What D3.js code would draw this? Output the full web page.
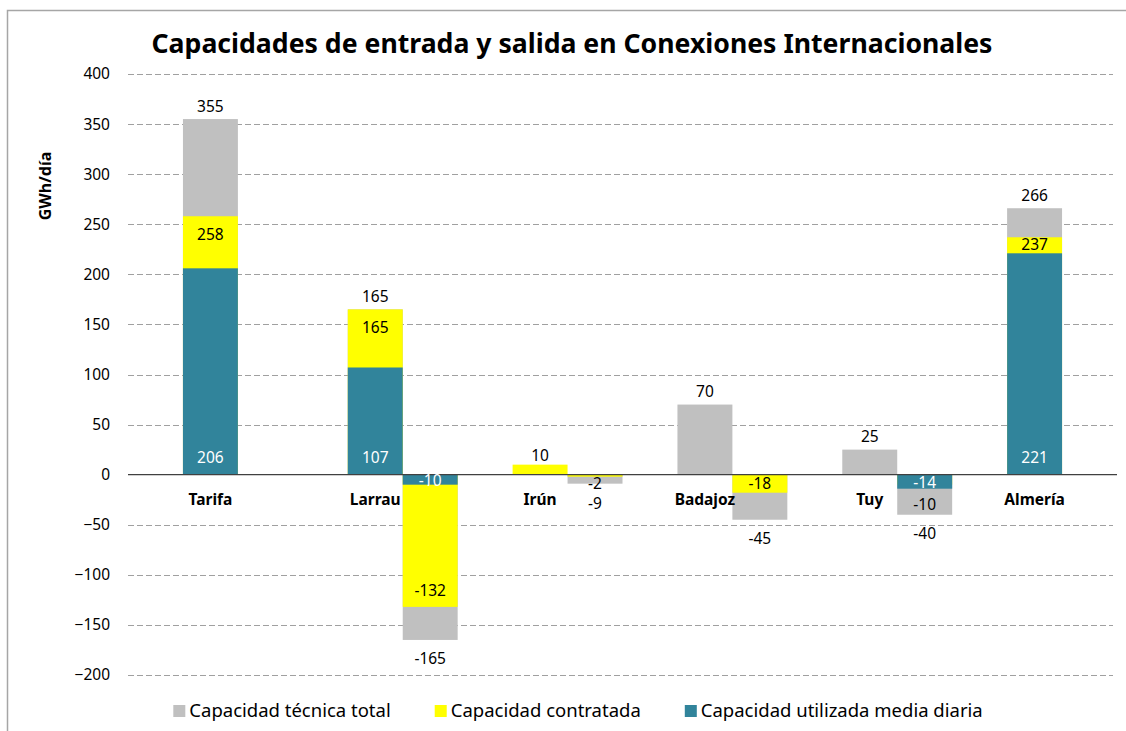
<!DOCTYPE html>
<html>
<head>
<meta charset="utf-8">
<script src="https://cdnjs.cloudflare.com/ajax/libs/d3/7.8.5/d3.min.js"></script>
<style>
  body { margin: 0; background: #fff; }
  svg { display: block; font-family: "Noto Sans", "Open Sans", sans-serif; }
  .grid line { stroke: #a0a0a0; stroke-dasharray: 6,3; }
</style>
</head>
<body>
<svg id="chart"></svg>
<script>
// DATA
/***********************/
var categories = ["Tarifa", "Larrau", "Irún", "Badajoz", "Tuy", "Almería"];

// entrada (positive bars)
var entradaTecnica    = [355, 165, null, 70, 25, 266];
var entradaContratada = [258, 165, 10, null, null, 237];
var entradaUtilizada  = [206, 107, null, null, null, 221];

// salida (negative bars)
var salidaTecnica    = [null, -165, -9, -45, -40, null];
var salidaContratada = [null, -132, -2, -18, -10, null];
var salidaUtilizada  = [null, -10, null, null, -14, null];

var yTicks = [-200, -150, -100, -50, 0, 50, 100, 150, 200, 250, 300, 350, 400];

var seriesNames = ["Capacidad técnica total", "Capacidad contratada", "Capacidad utilizada media diaria"];

// LAYOUT
/***********************/
var WIDTH = 1126,
    HEIGHT = 731;
var PLOT_LEFT = 128,
    PLOT_RIGHT = 1117;

var colors = ["#c0c0c0", "#ffff00", "#31849b"];

var svg = d3.select("#chart")
    .attr("width", WIDTH)
    .attr("height", HEIGHT);

// light frame of the chart area
svg.append("path")
    .attr("d", "M7.5,731 V10.5 H1126")
    .attr("fill", "none")
    .attr("stroke", "#a6a6a6")
    .attr("stroke-width", 1.5);

var x = d3.scaleBand()
    .domain(categories)
    .range([PLOT_LEFT, PLOT_RIGHT])
    .padding(0);

var y = d3.scaleLinear()
    .domain([-200, 400])
    .range([675, 74]);

var barW = x.bandwidth() / 3;

// gridlines
svg.append("g")
    .attr("class", "grid")
  .selectAll("line")
    .data(yTicks.filter(function(d) { return d !== 0; }))
  .enter().append("line")
    .attr("x1", PLOT_LEFT)
    .attr("x2", PLOT_RIGHT - 4)
    .attr("y1", function(d) { return Math.round(y(d)) + 0.5; })
    .attr("y2", function(d) { return Math.round(y(d)) + 0.5; });

// y axis labels
var yAxis = d3.axisLeft(y)
    .tickValues(yTicks)
    .tickSize(0)
    .tickPadding(0);

svg.append("g")
    .attr("transform", "translate(110,0)")
    .call(yAxis)
    .call(function(g) {
      g.select(".domain").remove();
      g.selectAll("text")
        .attr("font-size", "15.5px")
        .attr("font-family", "Noto Sans")
        .attr("fill", "#000");
    });

svg.append("text")
    .attr("transform", "translate(51,186) rotate(-90)")
    .attr("text-anchor", "middle")
    .attr("font-weight", "bold")
    .attr("font-size", "16px")
    .text("GWh/día");

// bars: one record per visible rect
var sides = [
  { key: "entrada", offset: 1, values: [entradaTecnica, entradaContratada, entradaUtilizada] },
  { key: "salida",  offset: 2, values: [salidaTecnica, salidaContratada, salidaUtilizada] }
];

var bars = [];
sides.forEach(function(side) {
  categories.forEach(function(cat, i) {
    side.values.forEach(function(arr, s) {
      if (arr[i] === null) return;
      bars.push({
        cat: cat,
        side: side,
        s: s,
        value: arr[i],
        teal: side.values[2][i]
      });
    });
  });
});

svg.append("g")
  .selectAll("rect")
    .data(bars)
  .enter().append("rect")
    .attr("x", function(d) { return x(d.cat) + d.side.offset * barW; })
    .attr("width", barW)
    .attr("y", function(d) { return Math.min(y(d.value), y(0)); })
    .attr("height", function(d) { return Math.abs(y(d.value) - y(0)); })
    .attr("fill", function(d) { return colors[d.s]; });

// zero line
svg.append("line")
    .attr("x1", PLOT_LEFT)
    .attr("x2", PLOT_RIGHT)
    .attr("y1", y(0))
    .attr("y2", y(0))
    .attr("stroke", "#404040")
    .attr("stroke-width", 1.2);

// data label placement, loosely following Excel's rules
function labelY(d) {
  var zero = y(0);
  var v = d.value;
  var t = d.teal || 0;
  if (d.s === 0) {
    return v > 0 ? y(v) - 13 : y(v) + 19;
  }
  if (d.s === 1) {
    var h;
    var covered = Math.abs(t) >= Math.abs(v);
    if (v > 0) {
      var bottom = Math.min(zero, y(t));
      h = bottom - y(v);
      if (h < 14) return y(Math.max(v, t)) - (covered ? 16 : 9);
      return Math.min(y(v) + 18, bottom - 9);
    }
    var start = Math.max(zero, y(t));
    h = y(v) - start;
    if (h < 14) return y(Math.min(v, t)) + (covered ? 16 : 7);
    return Math.max(y(v) - 16, start + 9);
  }
  if (v > 0) return zero - 17;
  return zero + Math.min(12, (y(v) - zero) / 2 + 1);
}

bars.forEach(function(d) { d.ly = labelY(d); });

// keep labels of the same column from piling up (push away from zero)
d3.groups(bars, function(d) { return d.cat + d.side.key; }).forEach(function(g) {
  var list = g[1].slice();
  var neg = list[0].value < 0;
  list.sort(function(a, b) { return neg ? a.ly - b.ly : b.ly - a.ly; });
  for (var k = 1; k < list.length; k++) {
    var gap = Math.abs(list[k].ly - list[k - 1].ly);
    if (gap < 20) list[k].ly += (neg ? 1 : -1) * (20 - gap);
  }
});

svg.append("g")
  .selectAll("text")
    .data(bars)
  .enter().append("text")
    .attr("x", function(d) { return x(d.cat) + d.side.offset * barW + barW / 2; })
    .attr("y", function(d) { return d.ly; })
    .attr("dy", "0.35em")
    .attr("text-anchor", "middle")
    .attr("font-size", "15.5px")
    .attr("fill", function(d) { return d.s === 2 ? "#fff" : "#000"; })
    .text(function(d) { return d.value; });

// category names, centred over the entrada bar
svg.append("g")
  .selectAll("text")
    .data(categories)
  .enter().append("text")
    .attr("x", function(d) { return x(d) + x.bandwidth() / 2; })
    .attr("y", 505)
    .attr("text-anchor", "middle")
    .attr("font-weight", "bold")
    .attr("font-size", "15.5px")
    .text(function(d) { return d; });

// title
var title = svg.append("text")
    .attr("x", 572)
    .attr("y", 53)
    .attr("text-anchor", "middle")
    .attr("font-weight", "bold")
    .attr("font-size", "27px")
    .text("Capacidades de entrada y salida en Conexiones Internacionales");
if (title.node().getComputedTextLength() > 841) {
  title.attr("textLength", 841).attr("lengthAdjust", "spacingAndGlyphs");
}

// legend
var legend = svg.append("g");
var lx = 0;
seriesNames.forEach(function(name, i) {
  var item = legend.append("g").attr("transform", "translate(" + lx + ",0)");
  item.append("rect")
      .attr("x", 0)
      .attr("y", 705)
      .attr("width", 12)
      .attr("height", 12)
      .attr("fill", colors[i]);
  var t = item.append("text")
      .attr("x", 16)
      .attr("y", 711)
      .attr("dy", "0.35em")
      .attr("font-size", "18.5px")
      .text(name);
  lx += 16 + t.node().getComputedTextLength() + 44;
});
var legendW = lx - 44;
legend.attr("transform", "translate(" + (578 - legendW / 2) + ",0)");
</script>
</body>
</html>
